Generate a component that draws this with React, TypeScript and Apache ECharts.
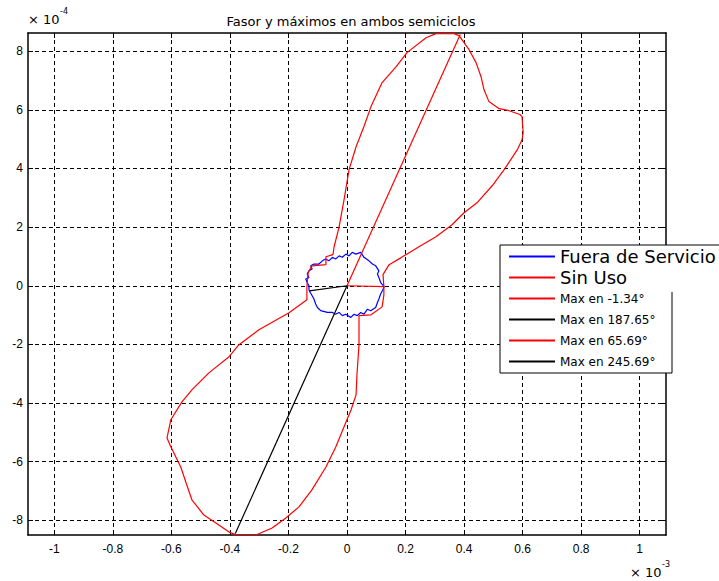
import React, { useEffect, useRef } from 'react';
import * as echarts from 'echarts';

// Axis ticks (x in units of 1e-3, y in units of 1e-4)
const xTicks = [-1, -0.8, -0.6, -0.4, -0.2, 0, 0.2, 0.4, 0.6, 0.8, 1];
const yTicks = [-8, -6, -4, -2, 0, 2, 4, 6, 8];

// "Fuera de Servicio" (blue)
const fueraX = [-0.13, -0.13, -0.136, -0.141, -0.13, -0.136, -0.13, -0.119, -0.124, -0.113, -0.096, -0.084, -0.073, -0.062, -0.05, -0.039, -0.027, -0.016, -0.004, 0.007, 0.018, 0.03, 0.047, 0.058, 0.075, 0.087, 0.098, 0.109, 0.104, 0.109, 0.115, 0.127, 0.121, 0.115, 0.109, 0.104, 0.098, 0.081, 0.07, 0.058, 0.047, 0.035, 0.024, 0.013, -0.004, -0.016, -0.027, -0.039, -0.05, -0.067, -0.09, -0.101, -0.107, -0.113, -0.119, -0.129, -0.13];
const fueraY = [-0.11, 0.0, 0.11, 0.23, 0.28, 0.4, 0.51, 0.57, 0.68, 0.74, 0.74, 0.85, 0.91, 0.85, 0.97, 0.91, 1.02, 0.97, 1.08, 1.02, 1.14, 1.08, 1.14, 0.97, 0.85, 0.74, 0.68, 0.51, 0.4, 0.28, 0.11, -0.03, -0.17, -0.28, -0.45, -0.57, -0.74, -0.85, -0.8, -0.97, -0.91, -1.02, -0.97, -1.08, -0.97, -1.02, -0.91, -0.97, -0.91, -0.91, -0.85, -0.74, -0.62, -0.45, -0.34, -0.17, -0.11];

// "Sin Uso" (red)
const sinUsoX = [0.126, 0.123, 0.144, 0.185, 0.246, 0.304, 0.359, 0.4, 0.444, 0.496, 0.537, 0.582, 0.598, 0.602, 0.598, 0.591, 0.554, 0.52, 0.485, 0.468, 0.458, 0.441, 0.417, 0.383, 0.366, 0.304, 0.27, 0.205, 0.168, 0.12, 0.082, 0.058, 0.031, 0.007, -0.01, -0.027, -0.044, -0.048, -0.072, -0.072, -0.12, -0.133, -0.137, -0.137, -0.198, -0.301, -0.369, -0.403, -0.472, -0.53, -0.564, -0.602, -0.615, -0.602, -0.568, -0.55, -0.53, -0.489, -0.448, -0.403, -0.376, -0.311, -0.256, -0.209, -0.164, -0.12, -0.072, -0.038, -0.01, 0.014, 0.031, 0.034, 0.041, 0.041, 0.082, 0.12, 0.126, 0.126];
const sinUsoY = [-0.03, 0.38, 0.72, 0.96, 1.33, 1.67, 2.08, 2.49, 2.83, 3.41, 3.96, 4.64, 4.98, 5.22, 5.77, 5.84, 5.97, 6.04, 6.28, 6.69, 7.13, 7.61, 8.05, 8.53, 8.6, 8.6, 8.46, 7.95, 7.47, 6.93, 6.11, 5.43, 4.74, 3.96, 2.94, 2.01, 1.33, 1.06, 0.99, 0.72, 0.68, 0.44, -0.03, -0.48, -0.92, -1.5, -2.01, -2.42, -2.97, -3.55, -3.96, -4.57, -5.19, -5.49, -6.18, -6.72, -7.3, -7.82, -8.09, -8.4, -8.5, -8.5, -8.26, -7.92, -7.54, -6.96, -6.18, -5.49, -4.81, -4.23, -3.72, -3.04, -2.01, -1.02, -0.99, -0.72, -0.31, -0.03];

// Maxima (angle in degrees, radius in units of 1e-3)
const maxNames = ['Max en -1.34°', 'Max en 187.65°', 'Max en 65.69°', 'Max en 245.69°'];
const maxAngles = [-1.34, 187.65, 65.69, 245.69];
const maxRadii = [0.127, 0.13, 0.94, 0.927];
const maxColors = ['#ff0000', '#000000', '#ff0000', '#000000'];

const X_MIN = -1.09, X_MAX = 1.09, Y_MIN = -8.5, Y_MAX = 8.62;

export default function App() {
  const ref = useRef<HTMLDivElement>(null);
  useEffect(() => {
    const chart = echarts.init(ref.current!, null, { renderer: 'svg' });
    const pairs = (xs: number[], ys: number[]) => xs.map((x, i) => [x, ys[i]]);
    const maxSeries = maxNames.map((name, i) => {
      const a = (maxAngles[i] * Math.PI) / 180;
      const r = maxRadii[i];
      return {
        name,
        type: 'line',
        data: [[0, 0], [r * Math.cos(a), r * Math.sin(a) * 10]],
        showSymbol: false,
        symbol: 'none',
        lineStyle: { color: maxColors[i], width: 1.2 },
        itemStyle: { color: maxColors[i] },
        z: 3,
      };
    });
    const fmtX = (v: number) => String(parseFloat(v.toFixed(1)));
    const fmtY = (v: number) => String(Math.round(v));
    const tickFont = { color: '#000', fontSize: 12, fontFamily: 'Liberation Sans' };
    const baseAxis = {
      type: 'value',
      axisLine: { show: true, onZero: false, lineStyle: { color: '#000', width: 1.5 } },
    };
    const gridLine = { show: true, lineStyle: { type: [4, 3], color: '#000', width: 1 } };
    const option: any = {
      animation: false,
      backgroundColor: '#ffffff',
      title: {
        text: 'Fasor y máximos en ambos semiciclos',
        left: 346,
        textAlign: 'center',
        top: 10,
        textStyle: { fontSize: 13, fontWeight: 'normal', color: '#000', fontFamily: 'DejaVu Sans' },
      },
      grid: { left: 28, right: 53, top: 33, bottom: 46, containLabel: false },
      xAxis: [
        {
          ...baseAxis, min: X_MIN, max: X_MAX, position: 'bottom',
          axisTick: { show: true, inside: true, length: 5, customValues: xTicks, lineStyle: { color: '#000' } },
          axisLabel: { show: true, customValues: xTicks, formatter: fmtX, margin: 8, ...tickFont },
          splitLine: gridLine,
        },
        {
          ...baseAxis, min: X_MIN, max: X_MAX, position: 'top',
          axisTick: { show: true, inside: true, length: 5, customValues: xTicks, lineStyle: { color: '#000' } },
          axisLabel: { show: false },
          splitLine: { show: false },
        },
      ],
      yAxis: [
        {
          ...baseAxis, min: Y_MIN, max: Y_MAX, position: 'left',
          axisTick: { show: true, inside: true, length: 5, customValues: yTicks, lineStyle: { color: '#000' } },
          axisLabel: { show: true, customValues: yTicks, formatter: fmtY, margin: 5, ...tickFont },
          splitLine: gridLine,
        },
        {
          ...baseAxis, min: Y_MIN, max: Y_MAX, position: 'right',
          axisTick: { show: true, inside: true, length: 5, customValues: yTicks, lineStyle: { color: '#000' } },
          axisLabel: { show: false },
          splitLine: { show: false },
        },
      ],
      legend: {
        orient: 'vertical',
        left: 509,
        top: 246,
        itemWidth: 46,
        itemHeight: 2,
        itemGap: 0,
        padding: 0,
        icon: 'rect',
        selectedMode: false,
        z: 10,
        textStyle: { color: '#000', fontSize: 12, fontFamily: 'DejaVu Sans', lineHeight: 21 },
        data: [
          { name: 'Fuera de Servicio', textStyle: { fontSize: 18, lineHeight: 21 } },
          { name: 'Sin Uso', textStyle: { fontSize: 18, lineHeight: 21 } },
          ...maxNames.map((n) => ({ name: n })),
        ],
      },
      graphic: {
        elements: [
          { type: 'rect', shape: { x: 500, y: 245, width: 172, height: 128 }, style: { fill: '#ffffff' }, z: 5 },
          {
            type: 'polyline',
            shape: { points: [[672, 292], [672, 373], [500, 373], [500, 245], [719, 245]] },
            style: { stroke: '#000', lineWidth: 1, fill: null },
            z: 6,
          },
          { type: 'text', x: 28, y: 13, style: { text: '× 10', fontSize: 13, fontFamily: 'DejaVu Sans', fill: '#000' }, z: 6 },
          { type: 'text', x: 60, y: 7, style: { text: '-4', fontSize: 8, fontFamily: 'DejaVu Sans', fill: '#000' }, z: 6 },
          { type: 'text', x: 630, y: 566, style: { text: '× 10', fontSize: 13, fontFamily: 'DejaVu Sans', fill: '#000' }, z: 6 },
          { type: 'text', x: 662, y: 560, style: { text: '-3', fontSize: 8, fontFamily: 'DejaVu Sans', fill: '#000' }, z: 6 },
        ],
      },
      series: [
        {
          name: 'Fuera de Servicio', type: 'line', data: pairs(fueraX, fueraY),
          showSymbol: false, symbol: 'none', lineStyle: { color: '#0000ff', width: 1.2 }, itemStyle: { color: '#0000ff' }, z: 2,
        },
        {
          name: 'Sin Uso', type: 'line', data: pairs(sinUsoX, sinUsoY),
          showSymbol: false, symbol: 'none', lineStyle: { color: '#ff0000', width: 1.2 }, itemStyle: { color: '#ff0000' }, z: 2,
        },
        ...maxSeries,
      ],
    };
    chart.setOption(option);
    return () => chart.dispose();
  }, []);
  return (
    <div
      ref={ref}
      style={{ position: 'fixed', left: 0, top: 0, width: 719, height: 581, background: '#fff' }}
    />
  );
}
